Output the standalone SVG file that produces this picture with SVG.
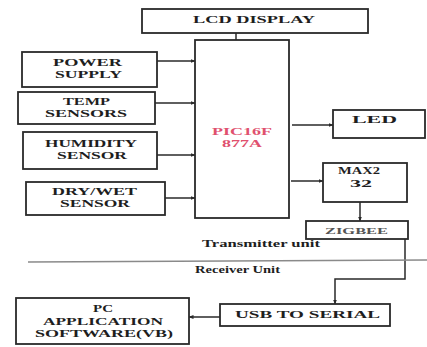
<svg xmlns="http://www.w3.org/2000/svg" width="427" height="347" viewBox="0 0 427 347">
<defs>
<style>
.box{fill:#fff;stroke:#2a2a2a;stroke-width:1.8}
.t{font-family:"Liberation Serif","Times New Roman",serif;font-weight:bold;font-size:11px;fill:#1e1e1e}
.m{font-size:10px}
.s{font-size:9px;fill:#555}
.p{font-size:10px;fill:#e0506e}
.c{fill:none;stroke:#2a2a2a;stroke-width:1.5}
</style>
<marker id="ah" viewBox="0 0 10 10" refX="9" refY="5" markerWidth="5" markerHeight="5" orient="auto" markerUnits="userSpaceOnUse">
<path d="M0,1 L10,5 L0,9 z" fill="#2a2a2a"/>
</marker>
</defs>
<rect width="427" height="347" fill="#fff"/>
<g id="connectors">
<line class="c" x1="236" y1="33" x2="236" y2="40"/>
<line class="c" x1="157" y1="61" x2="195" y2="61" marker-end="url(#ah)"/>
<line class="c" x1="155" y1="103" x2="195" y2="103" marker-end="url(#ah)"/>
<line class="c" x1="157" y1="155" x2="195" y2="155" marker-end="url(#ah)"/>
<line class="c" x1="165" y1="198" x2="195" y2="198" marker-end="url(#ah)"/>
<line class="c" x1="292" y1="125" x2="333" y2="125" marker-end="url(#ah)"/>
<line class="c" x1="291" y1="181" x2="323" y2="181" marker-end="url(#ah)"/>
<line class="c" x1="360" y1="202" x2="360" y2="221" marker-end="url(#ah)"/>
<polyline class="c" points="405,239 405,279 335,279 335,304" marker-start="url(#ah)" marker-end="url(#ah)"/>
<line class="c" x1="220" y1="317" x2="189" y2="317" marker-end="url(#ah)"/>
<line x1="28" y1="262" x2="427" y2="260" stroke="#8a8a8a" stroke-width="1.5"/>
</g>
<g id="lcd"><rect class="box" x="142" y="9" width="226" height="24"/><text class="t" x="193" y="23" textLength="122" lengthAdjust="spacingAndGlyphs">LCD DISPLAY</text></g>
<g id="pic"><rect class="box" x="195" y="40" width="94" height="178"/><text class="t p" x="212" y="135" textLength="60" lengthAdjust="spacingAndGlyphs">PIC16F</text><text class="t p" x="222" y="147" textLength="40" lengthAdjust="spacingAndGlyphs">877A</text></g>
<g id="power"><rect class="box" x="22" y="52" width="135" height="35"/><text class="t m" x="53" y="66" textLength="69" lengthAdjust="spacingAndGlyphs">POWER</text><text class="t m" x="55" y="78" textLength="67" lengthAdjust="spacingAndGlyphs">SUPPLY</text></g>
<g id="temp"><rect class="box" x="18" y="92" width="137" height="32"/><text class="t m" x="63" y="105" textLength="47" lengthAdjust="spacingAndGlyphs">TEMP</text><text class="t m" x="45" y="117" textLength="82" lengthAdjust="spacingAndGlyphs">SENSORS</text></g>
<g id="humidity"><rect class="box" x="23" y="132" width="134" height="37"/><text class="t m" x="45" y="147" textLength="92" lengthAdjust="spacingAndGlyphs">HUMIDITY</text><text class="t m" x="57" y="159" textLength="70" lengthAdjust="spacingAndGlyphs">SENSOR</text></g>
<g id="drywet"><rect class="box" x="26" y="182" width="139" height="33"/><text class="t m" x="52" y="195" textLength="85" lengthAdjust="spacingAndGlyphs">DRY/WET</text><text class="t m" x="60" y="207" textLength="70" lengthAdjust="spacingAndGlyphs">SENSOR</text></g>
<g id="led"><rect class="box" x="333" y="110" width="92" height="28"/><text class="t" x="352" y="123" textLength="45" lengthAdjust="spacingAndGlyphs">LED</text></g>
<g id="max232"><rect class="box" x="323" y="163" width="84" height="39"/><text class="t m" x="338" y="174" textLength="42" lengthAdjust="spacingAndGlyphs">MAX2</text><text class="t m" x="350" y="187" textLength="22" lengthAdjust="spacingAndGlyphs">32</text></g>
<g id="zigbee"><rect class="box" x="306" y="221" width="102" height="18"/><text class="t s" x="325" y="234" textLength="63" lengthAdjust="spacingAndGlyphs">ZIGBEE</text></g>
<g id="labels"><text class="t" x="202" y="247" textLength="118" lengthAdjust="spacingAndGlyphs">Transmitter unit</text><text class="t" x="195" y="273" textLength="85" lengthAdjust="spacingAndGlyphs">Receiver Unit</text></g>
<g id="usb"><rect class="box" x="220" y="304" width="170" height="22"/><text class="t" x="235" y="318" textLength="145" lengthAdjust="spacingAndGlyphs">USB TO SERIAL</text></g>
<g id="pc"><rect class="box" x="16" y="298" width="173" height="46"/><text class="t m" x="93" y="312" textLength="20" lengthAdjust="spacingAndGlyphs">PC</text><text class="t m" x="43" y="324.5" textLength="120" lengthAdjust="spacingAndGlyphs">APPLICATION</text><text class="t m" x="35" y="337" textLength="138" lengthAdjust="spacingAndGlyphs">SOFTWARE(VB)</text></g>
</svg>
